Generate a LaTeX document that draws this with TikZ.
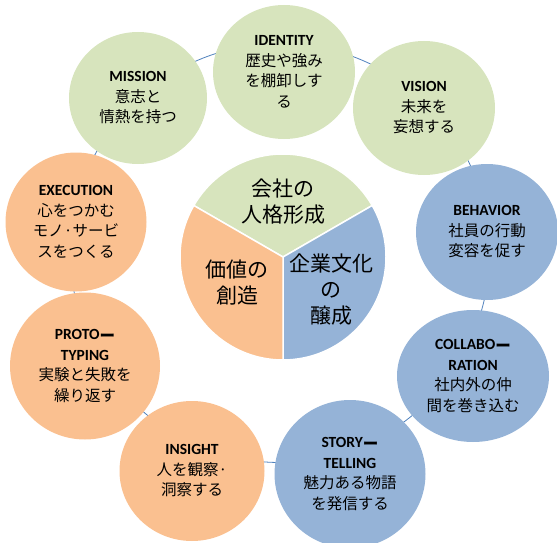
\documentclass[tikz,border=0pt]{standalone}
\usepackage{fontspec}
\setmainfont{Carlito}
\newfontfamily\jp{Noto Sans CJK JP}
\usetikzlibrary{shapes.geometric}
\definecolor{sgreen}{HTML}{D7E4BD}
\definecolor{sorange}{HTML}{FAC090}
\definecolor{sblue}{HTML}{95B3D7}
\definecolor{ringblue}{HTML}{4F81BD}
\newcommand\ttl[1]{{\rmfamily\bfseries #1}}
\newcommand\choon{\raisebox{-1.5pt}{\jp\bfseries ー}}
\tikzset{
	bubble/.style={ellipse, minimum width=142pt, minimum height=134pt, inner sep=0pt,
		align=center, font=\jp\fontsize{15.5}{20.5}\selectfont},
	gbub/.style={bubble, fill=sgreen},
	obub/.style={bubble, fill=sorange},
	bbub/.style={bubble, fill=sblue},
	slice/.style={draw=white, line width=1.5pt},
	core/.style={align=center, font=\jp\fontsize{21}{26}\selectfont},
	ring/.style={draw=ringblue, line width=0.8pt}}
\begin{document}
\begin{tikzpicture}[x=1pt, y=-1pt]
	
		\useasboundingbox (0,0) rectangle (557,543);
		
		\coordinate (ringc) at (280,253);
		\draw[ring] (ringc) circle[radius=209.5pt];
		
		\node[gbub] (ident) at (284,72) {\ttl{IDENTITY}\\歴史や強み\\を棚卸しす\\る};
		\node[gbub] (vis) at (424,108) {\ttl{VISION}\\未来を\\妄想する};
		\node[bbub, minimum height=136pt] (beh) at (487,232) {\ttl{BEHAVIOR}\\社員の行動\\変容を促す};
		\node[bbub, minimum width=152pt, minimum height=132pt] (col) at (473,376) {\ttl{COLLABO\choon}\\\ttl{RATION}\\社内外の仲\\間を巻き込む};
		\node[bbub, minimum width=151pt, minimum height=148pt] (sto) at (350,474) {\ttl{STORY\choon}\\\ttl{TELLING}\\魅力ある物語\\を発信する};
		\node[obub, minimum width=145pt, minimum height=140pt] (ins) at (192,471) {\ttl{INSIGHT}\\人を観察·\\洞察する};
		\node[obub, minimum width=150pt, minimum height=147pt] (pro) at (85,366) {\ttl{PROTO\choon}\\\ttl{TYPING}\\実験と失敗を\\繰り返す};
		\node[obub, minimum width=141pt, minimum height=139pt] (exe) at (76,222) {\ttl{EXECUTION}\\心をつかむ\\モノ·サービ\\スをつくる};
		\node[gbub, minimum width=138pt, minimum height=132pt] (mis) at (138,98) {\ttl{MISSION}\\意志と\\情熱を持つ};
		
		\coordinate (hub) at (283,257);
		\fill[sgreen, slice] (hub) -- ++(30:103pt) arc[start angle=30, end angle=150, radius=103pt] -- cycle;
		\fill[sblue, slice] (hub) -- ++(-90:103pt) arc[start angle=-90, end angle=30, radius=103pt] -- cycle;
		\fill[sorange, slice] (hub) -- ++(150:103pt) arc[start angle=150, end angle=270, radius=103pt] -- cycle;
		
		\node[core] (persona) at (283,202) {会社の\\人格形成};
		\node[core] (value) at (237,283) {価値の\\創造};
		\node[core] (culture) at (331,290) {企業文化\\の\\醸成};
	
	\end{tikzpicture}
\end{document}
